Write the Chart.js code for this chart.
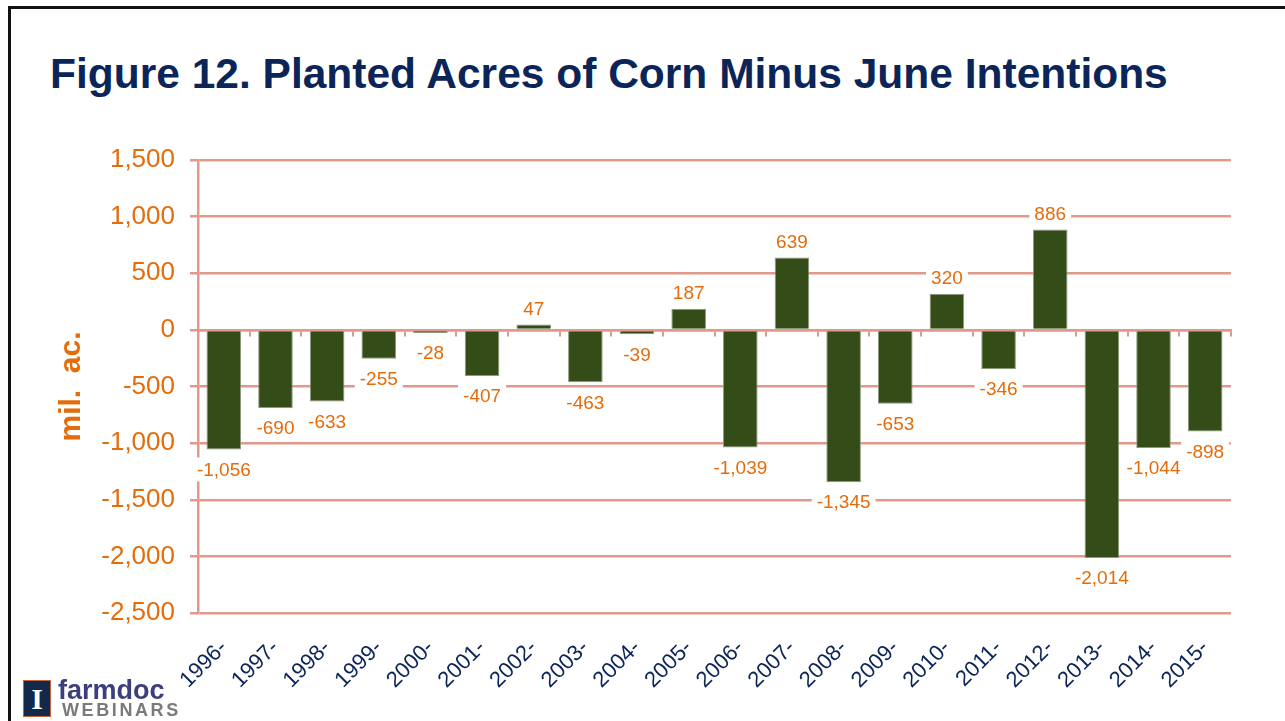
<!DOCTYPE html>
<html>
<head>
<meta charset="utf-8">
<script src="https://cdn.jsdelivr.net/npm/chart.js@4"></script>
<style>
  html, body { margin: 0; padding: 0; background: #fff; }
  body { width: 1285px; height: 721px; position: relative; overflow: hidden; font-family: "Liberation Sans", Arial, sans-serif; }
  .frame { position: absolute; left: 8px; top: 6px; width: 1300px; height: 740px; border-top: 3px solid #111; border-left: 3px solid #111; }
  .title { position: absolute; left: 50px; top: 53px; font-size: 42.5px; line-height: 1; font-weight: bold; color: #0B2559; white-space: nowrap; }
  #wrap { position: absolute; left: 0; top: 120px; width: 1285px; height: 601px; }
  .logo { position: absolute; left: 23px; top: 680px; z-index: 2; }
  .logo .icon { position: absolute; left: 0; top: 0; width: 26px; height: 35px; background: #13294B; border: 1px solid #C8623A; color: #fff; font-family: "Liberation Serif", serif; font-weight: bold; font-size: 30px; line-height: 35px; text-align: center; }
  .logo .farm { position: absolute; left: 35px; top: -3px; font-size: 27px; font-weight: bold; color: #3C3F7C; line-height: 1; }
  .logo .web { position: absolute; left: 39px; top: 21px; font-size: 18px; color: #7A7A7A; letter-spacing: 2.6px; line-height: 1; font-weight: bold; }
</style>
</head>
<body>
<div class="frame"></div>
<div class="title">Figure 12. Planted Acres of Corn Minus June Intentions</div>
<div id="wrap"><canvas id="acresChart"></canvas></div>
<div class="logo">
  <div class="icon">I</div>
  <div class="farm">farmdoc</div>
  <div class="web">WEBINARS</div>
</div>
<script>
const years = ['1996-', '1997-', '1998-', '1999-', '2000-', '2001-', '2002-', '2003-', '2004-', '2005-',
               '2006-', '2007-', '2008-', '2009-', '2010-', '2011-', '2012-', '2013-', '2014-', '2015-'];
const acresDiff = [-1056, -690, -633, -255, -28, -407, 47, -463, -39, 187,
                   -1039, 639, -1345, -653, 320, -346, 886, -2014, -1044, -898];
const yMin = -2500;
const yMax = 1500;
const yStep = 500;

const gridColor = '#E0998A';
const orange = '#E46C0A';
const navy = '#0B2559';

// value labels with white boxes, drawn on top of everything
const valueLabels = {
    id: 'valueLabels',
    afterDraw(chart) {
        const ctx = chart.ctx;
        const meta = chart.getDatasetMeta(0);
        ctx.save();
        ctx.font = '19px "Liberation Sans", Arial, sans-serif';
        ctx.textAlign = 'center';
        ctx.textBaseline = 'middle';
        meta.data.forEach((bar, i) => {
            const v = acresDiff[i];
            const txt = v.toLocaleString('en-US');
            const cy = v >= 0 ? bar.y - 16 : bar.y + 20;
            const w = ctx.measureText(txt).width;
            ctx.fillStyle = '#fff';
            ctx.fillRect(bar.x - w / 2 - 5, cy - 12, w + 10, 24);
            ctx.fillStyle = orange;
            ctx.fillText(txt, bar.x, cy + 1);
        });
        ctx.restore();
    }
};

new Chart(document.getElementById('acresChart'), {
    type: 'bar',
    data: {
        labels: years,
        datasets: [{
            data: acresDiff,
            backgroundColor: '#334C18',
            borderColor: '#8C9A7C',
            borderWidth: 1,
            categoryPercentage: 1,
            barPercentage: 0.67
        }]
    },
    options: {
        responsive: true,
        maintainAspectRatio: false,
        animation: false,
        layout: { padding: { left: 50, right: 54, top: 40, bottom: 0 } },
        plugins: {
            legend: { display: false },
            tooltip: { enabled: false }
        },
        scales: {
            x: {
                grid: { display: false },
                border: { display: false },
                ticks: {
                    autoSkip: false,
                    maxRotation: 45,
                    minRotation: 45,
                    padding: 14,
                    color: navy,
                    font: { size: 22, family: '"Liberation Sans", Arial, sans-serif' }
                },
                afterFit(scale) { scale.height = 108; }
            },
            x2: {
                type: 'category',
                labels: years,
                position: { y: 0 },
                offset: true,
                grid: { offset: true, drawOnChartArea: false, color: gridColor, lineWidth: 2, tickLength: 5 },
                border: { display: true, color: gridColor, width: 2.5 },
                ticks: { display: false }
            },
            y: {
                min: yMin,
                max: yMax,
                grid: { color: gridColor, lineWidth: 2.5, tickLength: 8 },
                border: { display: true, color: gridColor, width: 2.5 },
                ticks: {
                    stepSize: yStep,
                    padding: 15,
                    color: orange,
                    font: { size: 26, family: '"Liberation Sans", Arial, sans-serif' }
                },
                title: {
                    display: true,
                    text: 'mil.  ac.',
                    color: orange,
                    padding: { top: 4, bottom: 4 },
                    font: { size: 30, weight: 'bold', family: '"Liberation Sans", Arial, sans-serif' }
                },
                afterFit(scale) { scale.width = 148; }
            }
        }
    },
    plugins: [valueLabels]
});
</script>
</body>
</html>
